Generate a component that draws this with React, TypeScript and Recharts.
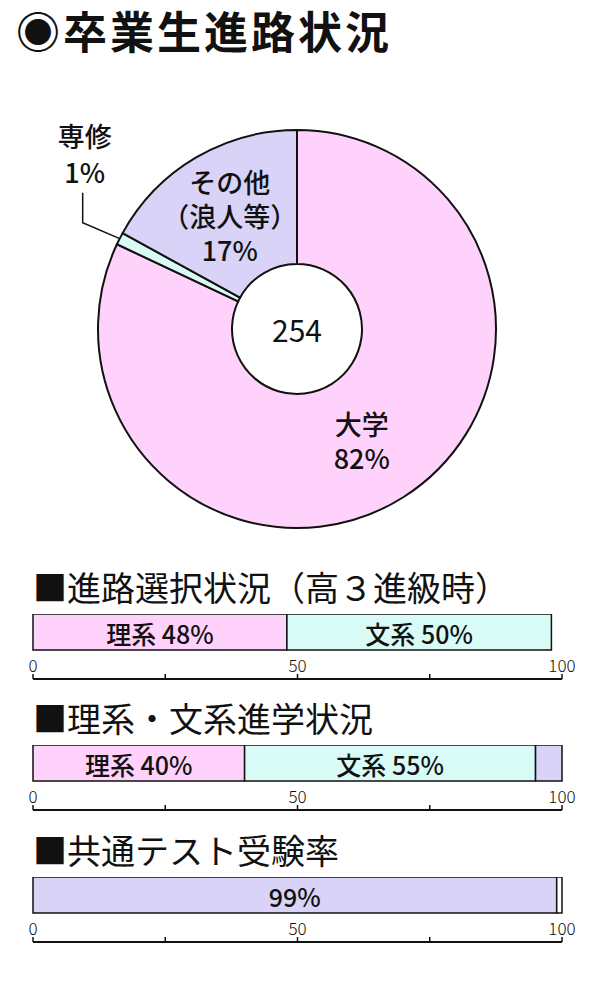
import { PieChart, Pie, Cell, BarChart, Bar, XAxis, YAxis } from 'recharts'

const FONT = '"Noto Sans CJK JP", "Noto Sans", sans-serif'
const INK = '#111'

// 卒業生進路状況 (donut)
const pieNames = ['大学', '専修', 'その他']
const pieNotes = ['', '', '（浪人等）']
const pieValues = [82, 1, 17]
const pieColors = ['#ffd2fb', '#d8fcf5', '#d8d3f7']
const graduateTotal = 254

// shared 0-100 axis under each bar
const axisTicks = [0, 25, 50, 75, 100]
const axisTickLabels = ['0', '', '50', '', '100']

// ■進路選択状況（高３進級時）
const choiceNames = ['理系', '文系']
const choiceValues = [48, 50]
const choiceColors = ['#ffd2fb', '#d8fcf5']
const choiceShown = [true, true]

// ■理系・文系進学状況
const enrolNames = ['理系', '文系', 'その他']
const enrolValues = [40, 55, 5]
const enrolColors = ['#ffd2fb', '#d8fcf5', '#d8d3f7']
const enrolShown = [true, true, false]

// ■共通テスト受験率
const examNames = ['', '']
const examValues = [99, 1]
const examColors = ['#d8d3f7', '#ffffff']
const examShown = [true, false]

const RAD = Math.PI / 180
const PIE_CX = 297
const PIE_CY = 329

function renderPieLabel(props: any) {
  const { cx, cy, midAngle, innerRadius, outerRadius, index } = props
  const lines = [pieNames[index], pieNotes[index], `${pieValues[index]}%`].filter(Boolean)
  const textStyle = { fontSize: 27, fontWeight: 500, fill: INK }

  if (index === 1) {
    // thin slice: label sits outside with an elbow leader line
    const px = cx + Math.cos(-midAngle * RAD) * outerRadius
    const py = cy + Math.sin(-midAngle * RAD) * outerRadius
    const ex = px - 37
    const ey = py - 16
    const ty = ey - 30
    return (
      <g>
        <polyline
          points={`${px},${py} ${ex},${ey} ${ex},${ty}`}
          fill="none"
          stroke={INK}
          strokeWidth={1.5}
        />
        <text textAnchor="middle" dominantBaseline="central" {...textStyle}>
          {lines.map((l, i) => (
            <tspan key={i} x={ex + 2} y={ty - 22 - (lines.length - 1 - i) * 36}>
              {l}
            </tspan>
          ))}
        </text>
      </g>
    )
  }

  const r = (innerRadius + outerRadius) / 2
  const x = cx + Math.cos(-midAngle * RAD) * r
  const y = cy + Math.sin(-midAngle * RAD) * r
  // 大学 sits a touch left of the slice middle in the original
  const nudge = index === 0 ? -6 : 0
  return (
    <text textAnchor="middle" dominantBaseline="central" {...textStyle}>
      {lines.map((l, i) => (
        <tspan key={i} x={x + nudge} y={y + (i - (lines.length - 1) / 2) * 34}>
          {l}
        </tspan>
      ))}
    </text>
  )
}

function AxisTick(props: any) {
  const { x, y, index } = props
  const label = axisTickLabels[index]
  return (
    <g>
      <line x1={x} x2={x} y1={y} y2={y - 5} stroke={INK} strokeWidth={1.5} />
      {label && (
        <text
          x={x}
          y={y - 15}
          textAnchor="middle"
          dominantBaseline="central"
          fontSize={17}
          fontWeight={300}
          fill={INK}
        >
          {label}
        </text>
      )}
    </g>
  )
}

interface StripProps {
  title: string
  top: number
  names: string[]
  values: number[]
  colors: string[]
  shown: boolean[]
}

function PercentStrip({ title, top, names, values, colors, shown }: StripProps) {
  const row: Record<string, string | number> = { name: title }
  values.forEach((v, i) => {
    row[`s${i}`] = v
  })

  const segLabel = (i: number) => (p: any) => {
    if (!shown[i]) return null
    const text = names[i] ? `${names[i]} ${values[i]}%` : `${values[i]}%`
    return (
      <text
        x={p.x + p.width / 2}
        y={p.y + p.height / 2 + 1}
        textAnchor="middle"
        dominantBaseline="central"
        fontSize={25}
        fontWeight={500}
        fill={INK}
      >
        {text}
      </text>
    )
  }

  return (
    <>
      <div
        style={{
          position: 'absolute',
          left: 33,
          top: top - 44,
          fontSize: 34,
          lineHeight: '34px',
          fontWeight: 400,
          whiteSpace: 'nowrap',
        }}
      >
        {title}
      </div>
      <div style={{ position: 'absolute', left: 0, top }}>
        <BarChart
          width={600}
          height={68}
          data={[row]}
          layout="vertical"
          barCategoryGap={0}
          margin={{ top: 0, right: 38, bottom: 0, left: 33 }}
        >
          <YAxis type="category" dataKey="name" hide padding={{ top: 0, bottom: 29 }} />
          <XAxis
            type="number"
            domain={[0, 100]}
            ticks={axisTicks}
            interval={0}
            height={3}
            tickSize={0}
            tickMargin={0}
            tickLine={false}
            axisLine={{ stroke: INK, strokeWidth: 2 }}
            tick={<AxisTick />}
          />
          {values.map((_, i) => (
            <Bar
              key={i}
              dataKey={`s${i}`}
              stackId="a"
              fill={colors[i]}
              stroke={INK}
              strokeWidth={1.5}
              isAnimationActive={false}
              label={segLabel(i)}
            />
          ))}
        </BarChart>
      </div>
    </>
  )
}

export default function App() {
  const pieData = pieNames.map((name, i) => ({ name, value: pieValues[i] }))

  return (
    <div
      style={{
        position: 'absolute',
        left: 0,
        top: 0,
        width: 600,
        height: 1000,
        background: '#fff',
        fontFamily: FONT,
        color: INK,
      }}
    >
      <div
        style={{
          position: 'absolute',
          left: 16,
          top: 6,
          fontSize: 44,
          lineHeight: '48px',
          fontWeight: 700,
          letterSpacing: 3,
          whiteSpace: 'nowrap',
        }}
      >
        ◉卒業生進路状況
      </div>

      <div style={{ position: 'absolute', left: 0, top: 0 }}>
        <PieChart width={600} height={560} margin={{ top: 0, right: 0, bottom: 0, left: 0 }}>
          <Pie
            data={pieData}
            dataKey="value"
            nameKey="name"
            cx={PIE_CX}
            cy={PIE_CY}
            innerRadius={65}
            outerRadius={199}
            startAngle={90}
            endAngle={-270}
            stroke={INK}
            strokeWidth={2}
            label={renderPieLabel}
            labelLine={false}
            isAnimationActive={false}
          >
            {pieData.map((_, i) => (
              <Cell key={i} fill={pieColors[i]} />
            ))}
          </Pie>
        </PieChart>
      </div>

      {/* total in the donut hole */}
      <div
        style={{
          position: 'absolute',
          left: PIE_CX - 60,
          top: PIE_CY - 20,
          width: 120,
          height: 40,
          lineHeight: '40px',
          textAlign: 'center',
          fontSize: 30,
        }}
      >
        {graduateTotal}
      </div>

      <PercentStrip
        title="■進路選択状況（高３進級時）"
        top={614}
        names={choiceNames}
        values={choiceValues}
        colors={choiceColors}
        shown={choiceShown}
      />
      <PercentStrip
        title="■理系・文系進学状況"
        top={745}
        names={enrolNames}
        values={enrolValues}
        colors={enrolColors}
        shown={enrolShown}
      />
      <PercentStrip
        title="■共通テスト受験率"
        top={877}
        names={examNames}
        values={examValues}
        colors={examColors}
        shown={examShown}
      />
    </div>
  )
}
